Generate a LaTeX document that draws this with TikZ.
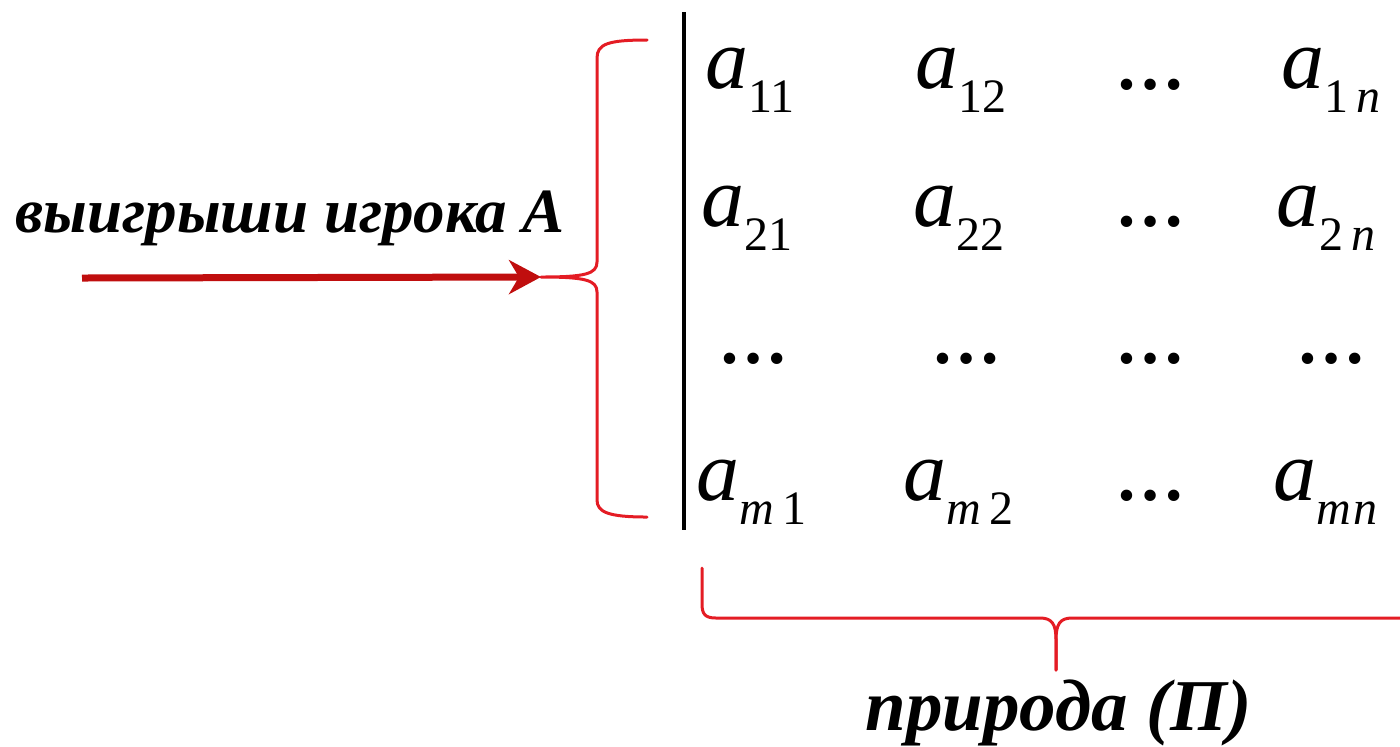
\documentclass[tikz,border=0pt]{standalone}
\usepackage{fontspec}
\setmainfont{Liberation Serif}[
  UprightFont={Liberation Serif},
  ItalicFont={Liberation Serif Italic},
  BoldFont={Liberation Serif Bold},
  BoldItalicFont={Liberation Serif Bold Italic}]
\usetikzlibrary{arrows.meta}
\definecolor{bracered}{RGB}{228,28,36}
\definecolor{arrowred}{RGB}{192,14,14}
\newcommand{\ent}[1]{{\fontsize{43}{50}\selectfont\itshape a}\raisebox{-12pt}{\fontsize{24}{28}\selectfont #1}}
\newcommand{\dts}{{\fontsize{35}{40}\selectfont\bfseries …}}
\tikzset{
  ent/.style={anchor=base west, inner sep=0pt},
  dts/.style={anchor=base, inner sep=0pt},
  lbl/.style={anchor=base west, inner sep=0pt, font=\bfseries\itshape},
  brace/.style={draw=bracered, line width=1.5pt, line cap=round, line join=round},
  arr/.style={draw=arrowred, line width=3.5pt, -{Stealth[length=16pt, width=17pt, inset=5pt]}},
  bar/.style={draw=black, line width=2.2pt}
}
\begin{document}
\begin{tikzpicture}[x=0.5pt, y=-0.5pt]
\useasboundingbox (0,0) rectangle (1400,746);
% vertical bar
\coordinate (bartop) at (684,12);
\coordinate (barbot) at (684,530);
\draw[bar] (bartop) -- (barbot);
% row 1
\node[ent] (a11) at (705,88) {\ent{11}};
\node[ent] (a12) at (915,88) {\ent{12}};
\node[dts] (d13) at (1150,89) {\dts};
\node[ent] (a1n) at (1281,88) {\ent{1\,\textit{n}}};
% row 2
\node[ent] (a21) at (701,226) {\ent{21}};
\node[ent] (a22) at (913,226) {\ent{22}};
\node[dts] (d23) at (1150,226) {\dts};
\node[ent] (a2n) at (1276,226) {\ent{2\,\textit{n}}};
% row 3
\node[dts] (d31) at (753,363) {\dts};
\node[dts] (d32) at (966,363) {\dts};
\node[dts] (d33) at (1150,363) {\dts};
\node[dts] (d34) at (1331,363) {\dts};
% row 4
\node[ent] (am1) at (696,500) {\ent{\textit{m}\,1}};
\node[ent] (am2) at (903,500) {\ent{\textit{m}\,2}};
\node[dts] (d43) at (1150,500) {\dts};
\node[ent] (amn) at (1273,500) {\ent{\textit{m}\kern1pt\textit{n}}};
% labels
\node[lbl, font=\fontsize{31.5}{36}\selectfont\bfseries\itshape] (lblA) at (15,232) {выигрыши игрока А};
\node[lbl, font=\fontsize{36.5}{42}\selectfont\bfseries\itshape] (lblP) at (865,730) {природа (П)};
% left brace
\coordinate (ltip) at (541,277);
\draw[brace] (647,40) .. controls (608,40) and (597,44) .. (597,58)
  -- (597,262) .. controls (597,274) and (585,277) .. (ltip)
  .. controls (585,277) and (597,280) .. (597,292)
  -- (597,500) .. controls (597,512) and (608,517) .. (647,517);
% arrow
\coordinate (astart) at (82,278);
\draw[arr] (astart) -- (ltip);
% bottom brace
\coordinate (btip) at (1056,670);
\draw[brace] (702,568) -- (702,604) .. controls (702,614) and (705,618) .. (716,618)
  -- (1040,618) .. controls (1052,618) and (1056,624) .. (1056,640) -- (btip);
\draw[brace] (btip) -- (1056,640) .. controls (1056,624) and (1060,618) .. (1072,618) -- (1400,618);
\end{tikzpicture}
\end{document}
